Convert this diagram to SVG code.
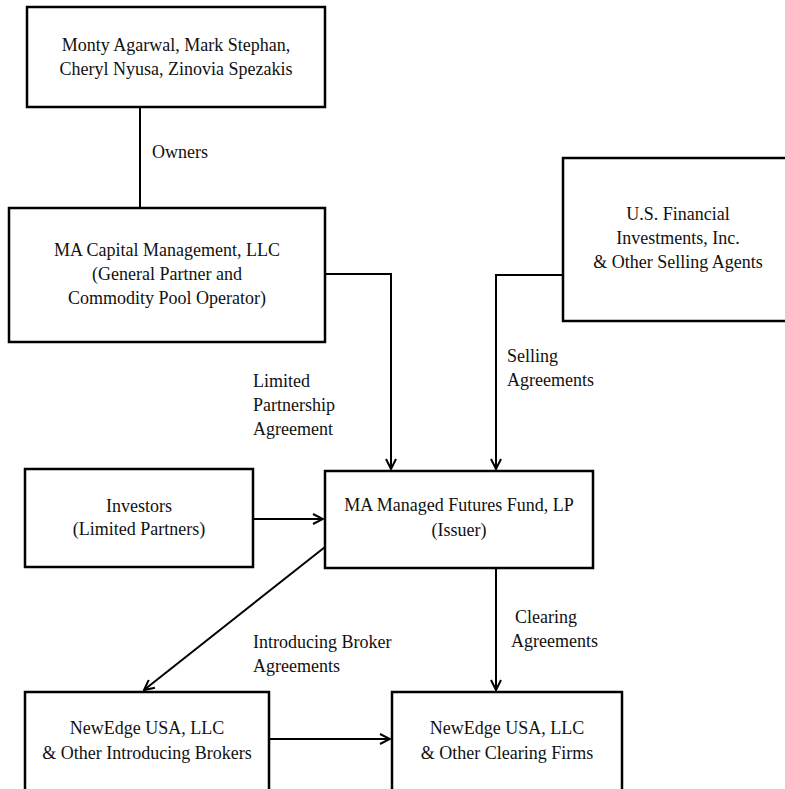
<svg xmlns="http://www.w3.org/2000/svg" width="785" height="789" viewBox="0 0 785 789" font-family="Liberation Serif, DejaVu Serif, serif" font-size="18">
<style>
.box{fill:#fff;stroke:#000;stroke-width:2.5}
.ln{fill:none;stroke:#000;stroke-width:2}
text{font-family:'Liberation Serif','DejaVu Serif',serif;font-size:18px;fill:#111}
.c{text-anchor:middle}
</style>
<defs>
<marker id="ah" viewBox="0 0 12 12" refX="11" refY="6" markerWidth="12" markerHeight="12" markerUnits="userSpaceOnUse" orient="auto">
<path d="M1,1 L11,6 L1,11" fill="none" stroke="#000" stroke-width="2"/>
</marker>
</defs>
<rect width="785" height="789" fill="#fff"/>
<g id="connectors">
<line class="ln" x1="140" y1="107" x2="140" y2="208"/>
<path class="ln" d="M325,274 H391 V469" marker-end="url(#ah)"/>
<path class="ln" d="M563,275 H496 V469" marker-end="url(#ah)"/>
<line class="ln" x1="253" y1="519" x2="323" y2="519" marker-end="url(#ah)"/>
<line class="ln" x1="325" y1="547" x2="144" y2="690" marker-end="url(#ah)"/>
<line class="ln" x1="496" y1="568" x2="496" y2="690" marker-end="url(#ah)"/>
<line class="ln" x1="269" y1="739" x2="390" y2="739" marker-end="url(#ah)"/>
</g>
<g id="labels">
<text x="152" y="158">Owners</text>
<text x="253" y="387">Limited</text>
<text x="253" y="411">Partnership</text>
<text x="253" y="435">Agreement</text>
<text x="507" y="362">Selling</text>
<text x="507" y="386">Agreements</text>
<text x="253" y="648">Introducing Broker</text>
<text x="253" y="672">Agreements</text>
<text x="515" y="623">Clearing</text>
<text x="511" y="647">Agreements</text>
</g>
<g id="owners">
<rect class="box" x="27" y="7" width="298" height="100"/>
<text class="c" x="176" y="51">Monty Agarwal, Mark Stephan,</text>
<text class="c" x="176" y="75">Cheryl Nyusa, Zinovia Spezakis</text>
</g>
<g id="macapital">
<rect class="box" x="9" y="208" width="316" height="134"/>
<text class="c" x="167" y="256">MA Capital Management, LLC</text>
<text class="c" x="167" y="280">(General Partner and</text>
<text class="c" x="167" y="304">Commodity Pool Operator)</text>
</g>
<g id="usfinancial">
<rect class="box" x="563" y="158" width="240" height="163"/>
<text class="c" x="678" y="220">U.S. Financial</text>
<text class="c" x="678" y="244">Investments, Inc.</text>
<text class="c" x="678" y="268">&amp; Other Selling Agents</text>
</g>
<g id="investors">
<rect class="box" x="25" y="469" width="228" height="98"/>
<text class="c" x="139" y="512">Investors</text>
<text class="c" x="139" y="535">(Limited Partners)</text>
</g>
<g id="fund">
<rect class="box" x="325" y="471" width="268" height="97"/>
<text class="c" x="459" y="511">MA Managed Futures Fund, LP</text>
<text class="c" x="459" y="536">(Issuer)</text>
</g>
<g id="introducing">
<rect class="box" x="25" y="692" width="244" height="110"/>
<text class="c" x="147" y="734">NewEdge USA, LLC</text>
<text class="c" x="147" y="759">&amp; Other Introducing Brokers</text>
</g>
<g id="clearing">
<rect class="box" x="392" y="692" width="230" height="110"/>
<text class="c" x="507" y="734">NewEdge USA, LLC</text>
<text class="c" x="507" y="759">&amp; Other Clearing Firms</text>
</g>
</svg>
